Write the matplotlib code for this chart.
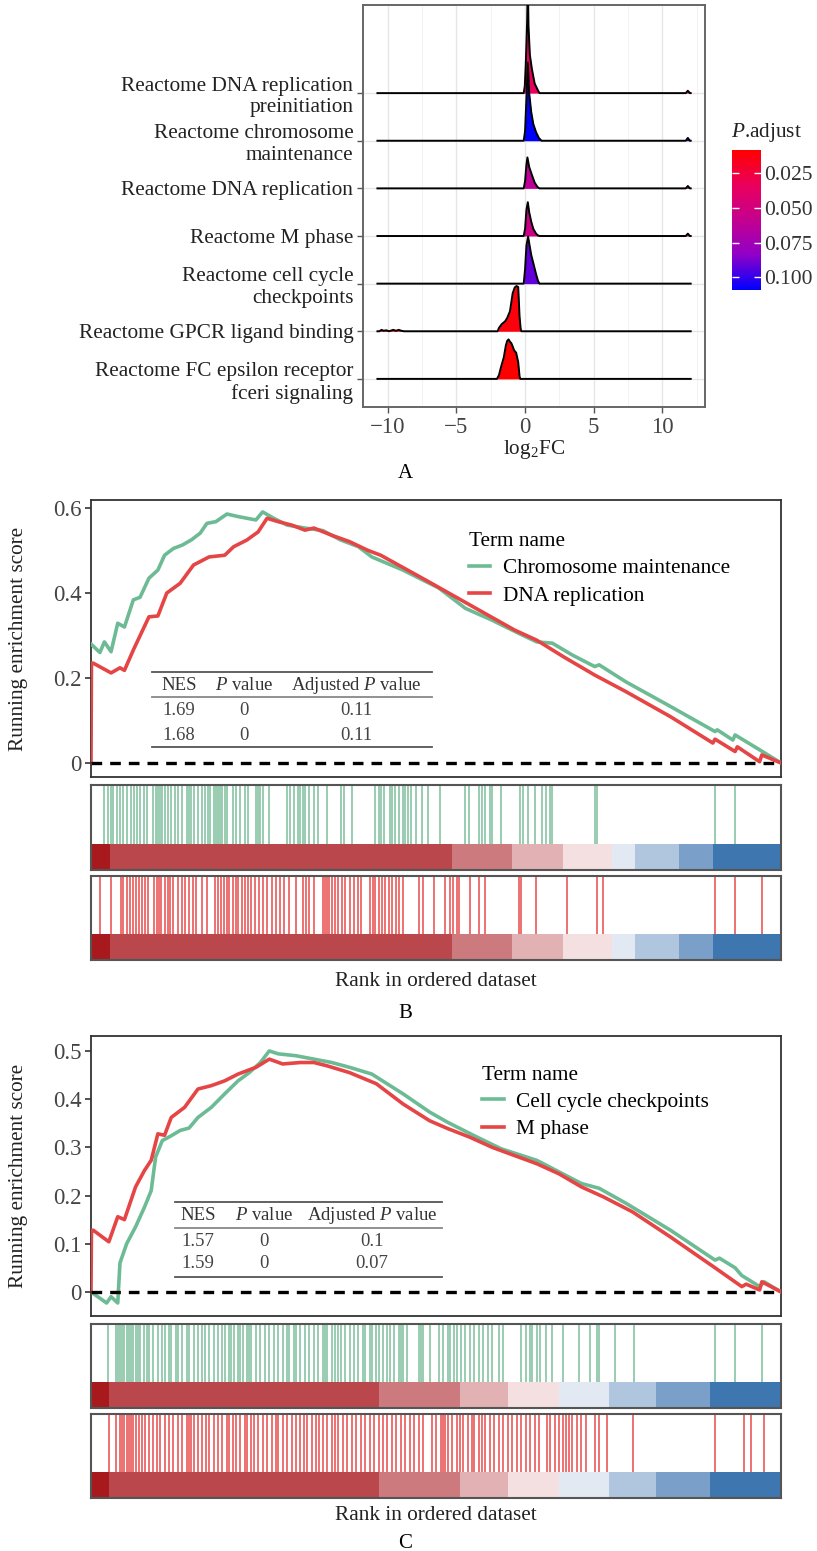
import numpy as np
import matplotlib
matplotlib.use("Agg")
import matplotlib.pyplot as plt
from matplotlib.colors import LinearSegmentedColormap, Normalize
from matplotlib.cm import ScalarMappable
from matplotlib.lines import Line2D

plt.rcParams['font.family'] = ['Liberation Serif', 'DejaVu Serif']
plt.rcParams['mathtext.fontset'] = 'custom'
plt.rcParams['mathtext.rm'] = 'Liberation Serif'
plt.rcParams['mathtext.it'] = 'Liberation Serif:italic'

# ---------------- data: panel A (ridges, bottom -> top) ----------------
ridge_names = ["Reactome FC epsilon receptor\nfceri signaling",
               "Reactome GPCR ligand binding",
               "Reactome cell cycle\ncheckpoints",
               "Reactome M phase",
               "Reactome DNA replication",
               "Reactome chromosome\nmaintenance",
               "Reactome DNA replication\npreinitiation"]
ridge_padj = [0.0085, 0.012, 0.092, 0.055, 0.062, 0.109, 0.035]
ridge_x = [
    [-2.05, -1.9, -1.75, -1.55, -1.4, -1.3, -1.2, -1.1, -1.0, -0.9, -0.8, -0.65, -0.5, -0.4, -0.35],
    [-10.6, -10.45, -10.3, -10.1, -9.9, -9.6, -9.4, -9.2, -9.0, -8.8,
     -2.0, -1.9, -1.7, -1.45, -1.3, -1.1, -0.9, -0.75, -0.62, -0.5, -0.4, -0.32, -0.27],
    [-0.1, 0.0, 0.1, 0.22, 0.3, 0.45, 0.6, 0.8, 0.95, 1.05],
    [-0.1, 0.0, 0.1, 0.2, 0.3, 0.45, 0.6, 0.8, 0.95, 1.05, 11.7, 11.85, 12.0],
    [-0.1, 0.0, 0.1, 0.17, 0.3, 0.5, 0.7, 0.9, 1.05, 11.7, 11.85, 12.0],
    [-0.1, 0.0, 0.1, 0.2, 0.3, 0.45, 0.6, 0.8, 1.0, 1.2, 11.7, 11.85, 12.0],
    [-0.1, -0.02, 0.05, 0.15, 0.2, 0.25, 0.35, 0.5, 0.7, 0.95, 1.05, 11.7, 11.85, 12.0],
]
ridge_h = [
    [0, 0.08, 0.25, 0.45, 0.7, 0.8, 0.83, 0.78, 0.75, 0.68, 0.6, 0.55, 0.35, 0.05, 0],
    [0, 0.03, 0.01, 0.02, 0.0, 0.03, 0.01, 0.03, 0.01, 0,
     0, 0.07, 0.15, 0.21, 0.28, 0.42, 0.8, 0.92, 0.95, 0.93, 0.3, 0.05, 0],
    [0, 0.3, 0.8, 0.99, 0.85, 0.6, 0.43, 0.2, 0.05, 0],
    [0, 0.15, 0.55, 0.71, 0.5, 0.3, 0.15, 0.05, 0.01, 0, 0, 0.05, 0],
    [0, 0.15, 0.5, 0.65, 0.45, 0.28, 0.12, 0.03, 0, 0, 0.05, 0],
    [0, 0.2, 0.9, 1.64, 1.0, 0.6, 0.35, 0.18, 0.06, 0, 0, 0.06, 0],
    [0, 0.15, 0.6, 1.5, 2.4, 1.4, 0.8, 0.5, 0.2, 0.05, 0, 0, 0.05, 0],
]
fc_lo, fc_hi = -10.75, 12.06

# ---------------- data: panels B and C (rank scale 0..1548) ----------------
n_rank = 1548
B_names = ["Chromosome maintenance", "DNA replication"]
B_green_x = [0, 20, 30, 45, 60, 75, 95, 110, 130, 150, 165, 185, 205, 225, 245, 260, 280, 305, 330,
             370, 385, 410, 440, 480, 520, 560, 600, 630, 700, 780, 840, 900, 960, 1000, 1035, 1080,
             1130, 1140, 1200, 1300, 1400, 1405, 1440, 1445, 1500, 1548]
B_green_y = [0.28, 0.26, 0.285, 0.262, 0.329, 0.32, 0.384, 0.39, 0.435, 0.454, 0.489, 0.505, 0.513,
             0.525, 0.541, 0.564, 0.568, 0.586, 0.58, 0.572, 0.591, 0.576, 0.56, 0.553, 0.547, 0.525,
             0.509, 0.485, 0.454, 0.412, 0.364, 0.336, 0.305, 0.285, 0.282, 0.254, 0.227, 0.231,
             0.191, 0.133, 0.074, 0.078, 0.054, 0.066, 0.031, 0.0]
B_red_x = [0, 1, 5, 45, 65, 75, 95, 130, 150, 170, 200, 230, 265, 300, 320, 350, 375, 395, 420, 450,
           480, 500, 540, 580, 620, 650, 750, 850, 950, 1000, 1060, 1130, 1200, 1300, 1395, 1400,
           1445, 1450, 1500, 1505, 1548]
B_red_y = [0.0, 0.235, 0.235, 0.212, 0.224, 0.218, 0.266, 0.344, 0.346, 0.40, 0.423, 0.466, 0.485,
           0.489, 0.509, 0.525, 0.544, 0.576, 0.568, 0.56, 0.548, 0.553, 0.536, 0.521, 0.501, 0.489,
           0.431, 0.372, 0.313, 0.289, 0.25, 0.207, 0.168, 0.109, 0.047, 0.056, 0.027, 0.038, 0.003,
           0.019, 0.0]
B_table = [["1.69", "0", "0.11"], ["1.68", "0", "0.11"]]
B_green_hits = [30, 38, 45, 50, 58, 65, 72, 80, 90, 97, 103, 110, 118, 125, 140, 145, 150, 155, 160,
                165, 172, 180, 188, 195, 205, 215, 220, 225, 232, 240, 248, 255, 262, 268, 275, 280,
                285, 290, 295, 300, 305, 318, 325, 335, 345, 352, 370, 375, 380, 385, 400, 440, 447,
                455, 465, 470, 475, 480, 490, 500, 510, 530, 560, 568, 585, 638, 645, 650, 658, 670,
                675, 683, 690, 700, 705, 712, 718, 730, 742, 755, 782, 840, 848, 870, 877, 885, 895,
                900, 920, 962, 970, 980, 995, 1012, 1020, 1030, 1035, 1130, 1135, 1400, 1445]
B_red_hits = [20, 45, 68, 72, 80, 88, 95, 100, 108, 115, 122, 128, 142, 148, 152, 158, 165, 172, 178,
              185, 195, 205, 210, 220, 228, 235, 248, 260, 278, 285, 292, 298, 305, 310, 318, 325,
              330, 338, 345, 352, 360, 368, 378, 385, 395, 405, 415, 425, 432, 445, 460, 475, 482,
              490, 500, 520, 525, 530, 535, 540, 548, 555, 562, 570, 580, 590, 600, 605, 625, 632,
              638, 645, 652, 660, 668, 675, 685, 690, 700, 735, 745, 770, 795, 805, 812, 820, 825,
              850, 870, 885, 960, 965, 998, 1068, 1135, 1148, 1400, 1445, 1505]
B_strip_edges = [0, 42, 810, 945, 1060, 1168, 1220, 1320, 1395, 1548]

C_names = ["Cell cycle checkpoints", "M phase"]
C_green_x = [0, 35, 45, 60, 65, 80, 100, 120, 135, 145, 160, 180, 200, 220, 240, 270, 300, 330, 355,
             380, 400, 420, 460, 500, 540, 580, 630, 700, 760, 800, 860, 920, 1000, 1050, 1100, 1140,
             1200, 1300, 1400, 1410, 1445, 1460, 1500, 1510, 1548]
C_green_y = [0.0, -0.023, -0.01, -0.023, 0.06, 0.10, 0.135, 0.176, 0.21, 0.28, 0.314, 0.324, 0.335,
             0.34, 0.362, 0.383, 0.411, 0.438, 0.455, 0.476, 0.50, 0.494, 0.49, 0.483, 0.476, 0.466,
             0.452, 0.411, 0.373, 0.352, 0.324, 0.297, 0.273, 0.249, 0.225, 0.215, 0.184, 0.128,
             0.066, 0.07, 0.05, 0.034, 0.011, 0.021, 0.0]
C_red_x = [0, 1, 5, 40, 60, 75, 100, 120, 135, 150, 165, 180, 210, 240, 270, 300, 330, 370, 400, 430,
           470, 500, 530, 580, 640, 700, 760, 800, 850, 900, 950, 1000, 1050, 1100, 1150, 1215, 1300,
           1400, 1460, 1470, 1500, 1505, 1548]
C_red_y = [0.0, 0.128, 0.128, 0.104, 0.156, 0.15, 0.218, 0.252, 0.273, 0.328, 0.325, 0.362, 0.383,
           0.421, 0.428, 0.438, 0.452, 0.466, 0.483, 0.473, 0.476, 0.476, 0.469, 0.455, 0.432, 0.39,
           0.355, 0.339, 0.321, 0.30, 0.283, 0.266, 0.245, 0.218, 0.197, 0.166, 0.114, 0.05, 0.011,
           0.016, 0.004, 0.021, 0.0]
C_table = [["1.57", "0", "0.1"], ["1.59", "0", "0.07"]]
C_green_hits = [38, 55, 60, 65, 70, 75, 80, 85, 90, 95, 100, 105, 110, 118, 125, 130, 140, 150, 160,
                165, 175, 180, 190, 195, 205, 215, 220, 230, 240, 248, 255, 265, 275, 285, 295, 300,
                310, 315, 320, 330, 335, 340, 350, 355, 360, 370, 380, 390, 400, 410, 420, 430, 440,
                445, 455, 460, 470, 480, 490, 500, 510, 520, 525, 530, 540, 548, 555, 560, 570, 580,
                590, 600, 610, 615, 625, 630, 640, 645, 655, 665, 670, 680, 690, 695, 700, 710, 735,
                740, 745, 760, 780, 790, 800, 805, 815, 820, 830, 840, 850, 860, 870, 880, 890, 900,
                915, 925, 965, 975, 985, 990, 1000, 1008, 1020, 1035, 1060, 1095, 1120, 1135, 1140,
                1175, 1218, 1400, 1445, 1505]
C_red_hits = [40, 55, 65, 70, 75, 80, 85, 90, 95, 100, 108, 115, 122, 130, 140, 148, 155, 165, 175,
              185, 195, 205, 215, 220, 225, 230, 240, 250, 258, 265, 275, 285, 295, 305, 310, 318,
              325, 335, 345, 350, 358, 365, 375, 385, 395, 405, 415, 420, 430, 440, 450, 460, 470,
              478, 485, 495, 505, 512, 520, 530, 540, 548, 555, 565, 575, 585, 595, 605, 615, 625,
              635, 645, 655, 665, 675, 685, 695, 705, 715, 725, 735, 745, 765, 775, 785, 790, 795,
              800, 810, 820, 828, 835, 845, 855, 860, 870, 878, 885, 895, 905, 915, 925, 935, 945,
              955, 965, 975, 985, 995, 1005, 1022, 1030, 1040, 1050, 1058, 1065, 1072, 1080, 1090,
              1100, 1110, 1130, 1140, 1158, 1215, 1400, 1465, 1480, 1510]
C_strip_edges = [0, 40, 645, 828, 935, 1050, 1163, 1268, 1388, 1548]

strip_colors = ["#a8191e", "#b9474b", "#cd7a7e", "#e2b1b4", "#f4e0e1", "#e2e9f2", "#afc6de",
                "#7aa0c9", "#3e76b0"]
table_header = ["NES", "$P$ value", "Adjusted $P$ value"]
green = "#6dbb95"
red = "#e64545"

# ---------------- figure ----------------
W, H = 817, 1551
fig = plt.figure(figsize=(W / 100, H / 100), dpi=100)


def add_ax(l, t, r, b):
    return fig.add_axes([l / W, 1 - b / H, (r - l) / W, (b - t) / H])


def fx(x):
    return x / W


def fy(y):
    return 1 - y / H


# ---- panel A ----
cmap = LinearSegmentedColormap.from_list(
    "padj", [(0, "#ff0000"), (0.25, "#ea005c"), (0.5, "#c4008f"), (0.75, "#9000c8"), (1, "#0000ff")])
norm = Normalize(vmin=0.0085, vmax=0.109)

axA = add_ax(363, 5, 705, 407)
n_rows = len(ridge_names)
for i in range(n_rows - 1, -1, -1):
    xs = np.concatenate([[fc_lo], ridge_x[i], [fc_hi]])
    hs = np.concatenate([[0], ridge_h[i], [0]])
    base = i + 1
    axA.fill_between(xs, base, base + hs, color=cmap(norm(ridge_padj[i])), lw=0, zorder=20 - 2 * i)
    axA.plot(xs, base + hs, color="black", lw=1.4, zorder=21 - 2 * i)
axA.set_xlim(-11.8, 13.1)
axA.set_ylim(0.41, 8.85)
axA.set_yticks(range(1, n_rows + 1))
axA.set_yticklabels(ridge_names, fontsize=15.3, linespacing=1.2)
axA.set_xticks([-10, -5, 0, 5, 10])
axA.set_xticks([-7.5, -2.5, 2.5, 7.5, 12.5], minor=True)
axA.set_xticklabels(["\u221210", "\u22125", "0", "5", "10"], fontsize=16.5, color="#444444")
axA.grid(True, which="major", color="#e6e6e6", lw=1.0, zorder=0)
axA.grid(True, which="minor", axis="x", color="#f2f2f2", lw=0.7, zorder=0)
axA.set_axisbelow(True)
axA.tick_params(axis="both", which="major", length=4, color="#555555", width=1, pad=3)
axA.tick_params(axis="y", colors="#555555", labelcolor="#222222")
axA.tick_params(axis="x", which="minor", length=0)
for s in axA.spines.values():
    s.set_color("#666666")
    s.set_linewidth(1.4)
axA.set_xlabel("log$_\\mathrm{2}$FC", fontsize=15.3, labelpad=0, color="#222222")

cax = add_ax(732, 150, 761, 290)
cb = fig.colorbar(ScalarMappable(norm=norm, cmap=cmap), cax=cax)
cb.outline.set_visible(False)
cb.set_ticks([0.025, 0.05, 0.075, 0.1])
cb.set_ticklabels(["0.025", "0.050", "0.075", "0.100"])
cax.invert_yaxis()
cax.tick_params(direction="in", color="white", length=5, width=1, left=True, right=True,
                labelsize=15.5, labelcolor="#333333", pad=2)
fig.text(fx(731), fy(133), "$P$.adjust", fontsize=15.3, ha="left", va="center", color="#222222")
fig.text(fx(405), fy(474), "A", fontsize=15, ha="center", va="center")


# ---- GSEA panels ----
def gsea_panel(main_box, bc1_box, bc2_box, names, gx, gy, rx, ry, ylim, yticks, yticklabels,
               table, table_px, legend_anchor, ghits, rhits, strip_edges, rank_y, label, label_y):
    ax = add_ax(*main_box)
    ax.plot(gx, gy, color=green, lw=2.6, label=names[0], zorder=3)
    ax.plot(rx, ry, color=red, lw=2.6, label=names[1], zorder=4)
    ax.axhline(0, color="black", lw=2.4, ls=(0, (3.2, 2.4)), zorder=5)
    ax.set_xlim(0, n_rank)
    ax.set_ylim(*ylim)
    ax.set_xticks([])
    ax.set_yticks(yticks)
    ax.set_yticklabels(yticklabels, fontsize=16.5, color="#444444")
    ax.tick_params(axis="y", length=4, width=1.2, color="#333333", pad=3)
    for s in ax.spines.values():
        s.set_color("#333333")
        s.set_linewidth(1.3)
    ax.set_ylabel("Running enrichment score", fontsize=15.3, color="#222222")
    ax.yaxis.set_label_coords(-(main_box[0] - 28) / (main_box[2] - main_box[0]), 0.5)
    leg = ax.legend(title="Term name", loc="upper left", bbox_to_anchor=legend_anchor, frameon=False,
                    fontsize=15.3, title_fontsize=15.3, handlelength=1.0, handletextpad=0.6,
                    labelspacing=0.35, borderaxespad=0)
    leg._legend_box.align = "left"

    # table
    x0, x1, y_top, y_head, y_mid, y_r1, y_r2, y_bot, cols = table_px
    for yy, c in [(y_top, "#555555"), (y_mid, "#888888"), (y_bot, "#555555")]:
        fig.add_artist(Line2D([fx(x0), fx(x1)], [fy(yy), fy(yy)], color=c, lw=1.3))
    for cx, txt in zip(cols, table_header):
        fig.text(fx(cx), fy(y_head), txt, fontsize=13.5, ha="center", va="center", color="#333333")
    for ry_, row in zip([y_r1, y_r2], table):
        for cx, txt in zip(cols, row):
            fig.text(fx(cx), fy(ry_), txt, fontsize=13.5, ha="center", va="center", color="#444444")

    for box, hits, col in [(bc1_box, ghits, "#7dbf9d"), (bc2_box, rhits, "#e84a4a")]:
        bx = add_ax(*box)
        bx.set_xlim(0, n_rank)
        bx.set_ylim(0, 1)
        bx.vlines(hits, 0.31, 1, color=col, lw=1.1)
        for k in range(len(strip_colors)):
            bx.broken_barh([(strip_edges[k], strip_edges[k + 1] - strip_edges[k])], (0, 0.31),
                           color=strip_colors[k], lw=0)
        bx.set_xticks([])
        bx.set_yticks([])
        for s in bx.spines.values():
            s.set_color("#555555")
            s.set_linewidth(1.5)
    fig.text(fx(436), fy(rank_y), "Rank in ordered dataset", fontsize=15.3, ha="center", va="center",
             color="#222222")
    fig.text(fx(405), fy(label_y), label, fontsize=15, ha="center", va="center")


gsea_panel((91, 500, 781, 777), (91, 785, 781, 870), (91, 876, 781, 960), B_names,
           B_green_x, B_green_y, B_red_x, B_red_y, (-0.033, 0.619), [0, 0.2, 0.4, 0.6],
           ["0", "0.2", "0.4", "0.6"], B_table,
           (152, 432, 672, 685, 697, 710, 735, 747, (179, 244, 356)), (0.535, 0.915),
           B_green_hits, B_red_hits, B_strip_edges, 981, "B", 1013)

gsea_panel((91, 1036, 781, 1316), (91, 1324, 781, 1408), (91, 1414, 781, 1498), C_names,
           C_green_x, C_green_y, C_red_x, C_red_y, (-0.05, 0.531), [0, 0.1, 0.2, 0.3, 0.4, 0.5],
           ["0", "0.1", "0.2", "0.3", "0.4", "0.5"], C_table,
           (175, 442, 1202, 1215, 1228, 1241, 1264, 1277, (198, 264, 372)), (0.555, 0.925),
           C_green_hits, C_red_hits, C_strip_edges, 1515, "C", 1544)

fig.savefig("out.png", dpi=100)
